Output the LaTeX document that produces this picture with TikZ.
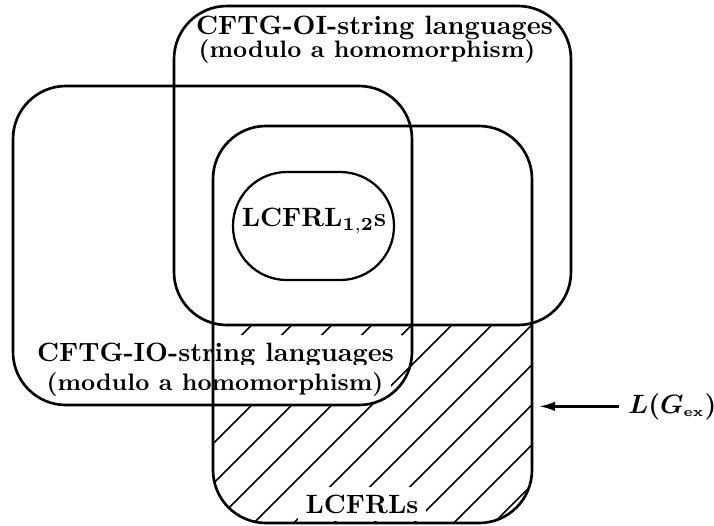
\documentclass[tikz,border=0pt]{standalone}
\usetikzlibrary{arrows.meta}
\begin{document}
\begin{tikzpicture}[x=0.3775pt,y=-0.3775pt,
  box/.style={line width=1pt, rounded corners=20pt},
  stadium/.style={line width=0.85pt, rounded corners=20.3pt},
  hatchline/.style={line width=0.6pt, sharp corners},
  lbl/.style={font=\bfseries, inner sep=3pt},
  sublbl/.style={font=\bfseries\small, inner sep=3pt},
  mathlbl/.style={font=\boldmath, inner sep=3.3pt},
  mask/.style={fill=white},
  arr/.style={line width=0.9pt, -{Latex[length=6pt,width=3.6pt]}, shorten >=2.7pt}]
\useasboundingbox (0,0) rectangle (714,525);
\coordinate (oiNW) at (174,6);   \coordinate (oiSE) at (571,325);
\coordinate (ioNW) at (13,86);   \coordinate (ioSE) at (412,405);
\coordinate (lcNW) at (213,126); \coordinate (lcSE) at (532,523);
\coordinate (stNW) at (233,172); \coordinate (stSE) at (394,280);
% hatching: LCFRLs minus the OI region
\begin{scope}[even odd rule, rounded corners=20pt]
  \clip (lcNW) rectangle (lcSE);
  \clip (-20,-20) rectangle (740,560) (oiNW) rectangle (oiSE);
  \foreach \c in {536.7,576.7,...,1056.7}
    \draw[hatchline] ({\c-540},540) -- ({\c-100},100);
\end{scope}
% labels that interrupt the hatching
\node[lbl, mask, anchor=base] (io1) at (215.5,361) {CFTG-IO-string languages};
\node[sublbl, mask, anchor=base] (io2) at (215,390.5) {(modulo a homomorphism)};
\node[lbl, mask, anchor=base] (lc) at (362,513) {LCFRLs};
% regions
\draw[box] (oiNW) rectangle (oiSE);
\draw[box] (ioNW) rectangle (ioSE);
\draw[box] (lcNW) rectangle (lcSE);
\draw[stadium] (stNW) rectangle (stSE);
% other labels
\node[lbl, anchor=base] (oi1) at (374.5,34.5) {CFTG-OI-string languages};
\node[sublbl, anchor=base] (oi2) at (367,57.5) {(modulo a homomorphism)};
\node[lbl, anchor=base] (l12) at (314,226.7) {LCFRL$_{\mathbf{1,2}}$s};
\node[mathlbl, anchor=base west] (gex) at (619,413) {$L(G_{\scriptscriptstyle\mathrm{ex}})$};
\draw[arr] (gex.west) -- (gex.west -| lcSE);
\end{tikzpicture}
\end{document}
